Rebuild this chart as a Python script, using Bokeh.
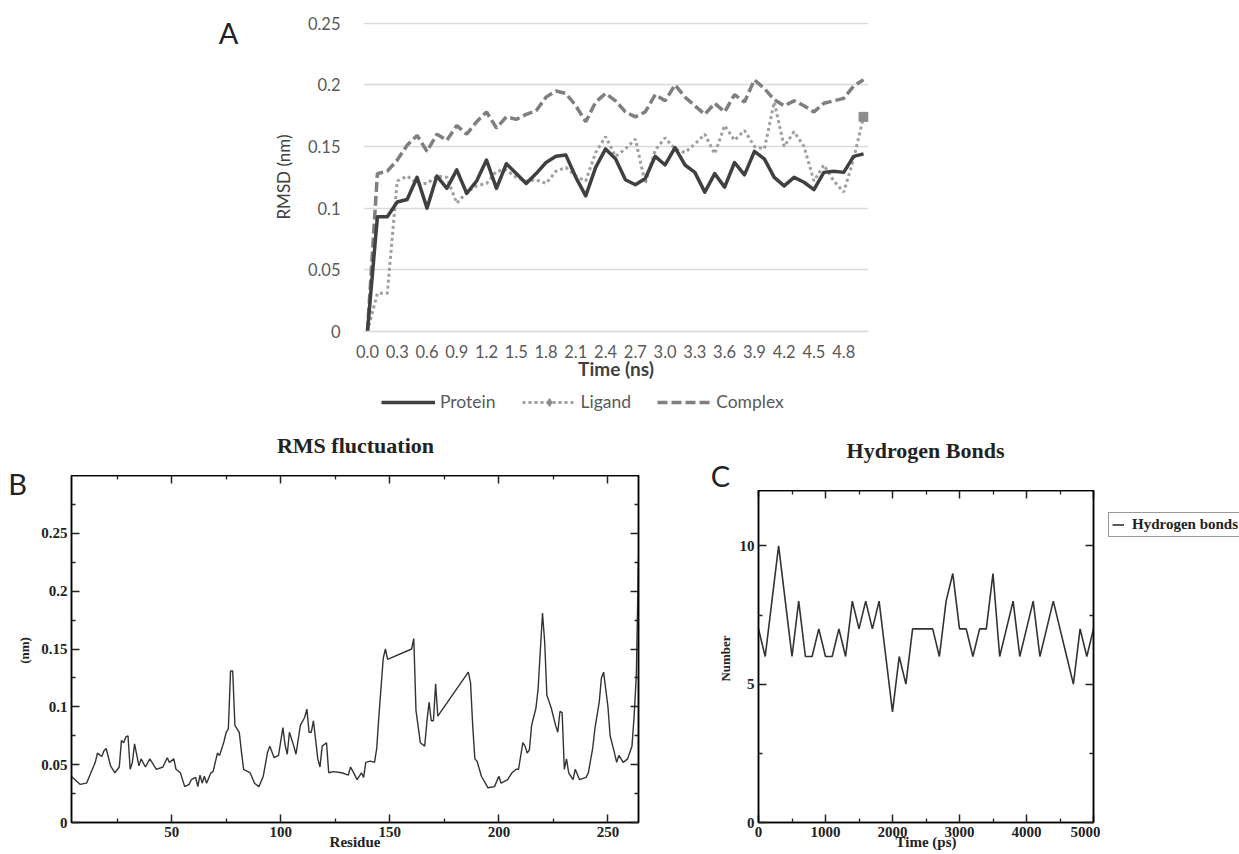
import math
from bokeh.plotting import figure
from bokeh.models import (Range1d, FixedTicker, NumeralTickFormatter, Legend,
                          LegendItem, LinearAxis)
from bokeh.layouts import column, row
from bokeh.embed import file_html
from bokeh.resources import INLINE
from bokeh.core.properties import value

# ---------------- Panel A data (RMSD) ----------------
time_ns = [round(0.1 * i, 1) for i in range(51)]
time_tick_labels = ["0.0", "0.3", "0.6", "0.9", "1.2", "1.5", "1.8", "2.1", "2.4",
                    "2.7", "3.0", "3.3", "3.6", "3.9", "4.2", "4.5", "4.8"]
rmsd_ticks = [0, 0.05, 0.1, 0.15, 0.2, 0.25]
protein = [0, 0.093, 0.093, 0.105, 0.107, 0.125, 0.100, 0.126, 0.116, 0.131,
           0.112, 0.122, 0.139, 0.116, 0.136, 0.128, 0.120, 0.128, 0.137, 0.142,
           0.143, 0.125, 0.110, 0.133, 0.148, 0.140, 0.123, 0.119, 0.124, 0.142,
           0.135, 0.149, 0.135, 0.129, 0.113, 0.128, 0.117, 0.137, 0.127, 0.146,
           0.140, 0.125, 0.118, 0.125, 0.121, 0.115, 0.129, 0.130, 0.129, 0.142,
           0.144]
ligand = [0, 0.031, 0.031, 0.122, 0.126, 0.120, 0.120, 0.126, 0.125, 0.104,
          0.113, 0.118, 0.120, 0.130, 0.131, 0.125, 0.122, 0.123, 0.120, 0.130,
          0.133, 0.126, 0.122, 0.145, 0.158, 0.142, 0.148, 0.156, 0.120, 0.147,
          0.157, 0.148, 0.145, 0.152, 0.160, 0.144, 0.167, 0.155, 0.163, 0.150,
          0.148, 0.186, 0.150, 0.162, 0.150, 0.122, 0.135, 0.122, 0.113, 0.140,
          0.174]
complex_ = [0, 0.128, 0.130, 0.139, 0.151, 0.159, 0.146, 0.160, 0.155, 0.167,
            0.160, 0.170, 0.178, 0.165, 0.174, 0.172, 0.176, 0.179, 0.190, 0.195,
            0.193, 0.183, 0.170, 0.186, 0.193, 0.187, 0.178, 0.174, 0.178, 0.192,
            0.187, 0.200, 0.190, 0.183, 0.176, 0.185, 0.178, 0.192, 0.186, 0.204,
            0.197, 0.188, 0.183, 0.187, 0.183, 0.178, 0.185, 0.187, 0.189, 0.199,
            0.204]

# ---------------- Panel B data (RMSF) ----------------
residue = [4, 8, 11, 13, 15, 16, 18, 19, 20, 22, 24, 26, 27, 28, 29, 30, 31, 32, 33, 35,
           36, 38, 40, 43, 46, 48, 49, 51, 52, 54, 56, 58, 59, 61, 62, 63, 64, 65, 66, 68,
           69, 71, 72, 74, 75, 76, 77, 78, 79, 81, 82, 83, 86, 88, 90, 92, 94, 95, 97, 99,
           101, 102, 103, 104, 106, 107, 109, 111, 112, 113, 114, 115, 117, 118, 119, 121,
           122, 124, 128, 131, 132, 134, 135, 137, 138, 139, 141, 143, 144, 145, 147, 148,
           149, 160, 161, 162, 164, 166, 167, 168, 169, 170, 171, 172, 186, 187, 188, 189,
           190, 192, 195, 198, 200, 201, 204, 206, 208, 209, 211, 212, 213, 214, 215, 217,
           218, 220, 221, 222, 224, 226, 227, 228, 229, 230, 231, 232, 234, 235, 237, 240,
           241, 243, 244, 246, 247, 248, 250, 251, 253, 254, 255, 257, 259, 261, 262, 263,
           264]
rmsf = [0.040, 0.033, 0.034, 0.043, 0.052, 0.060, 0.057, 0.062, 0.064, 0.049,
        0.043, 0.048, 0.071, 0.069, 0.074, 0.075, 0.046, 0.052, 0.068, 0.049,
        0.055, 0.048, 0.055, 0.046, 0.048, 0.056, 0.052, 0.055, 0.046, 0.043,
        0.031, 0.033, 0.037, 0.039, 0.031, 0.041, 0.034, 0.040, 0.034, 0.043,
        0.044, 0.060, 0.058, 0.070, 0.078, 0.081, 0.131, 0.131, 0.084, 0.078,
        0.061, 0.046, 0.043, 0.034, 0.031, 0.040, 0.061, 0.066, 0.056, 0.058,
        0.082, 0.067, 0.059, 0.078, 0.066, 0.059, 0.084, 0.091, 0.098, 0.078,
        0.078, 0.088, 0.055, 0.048, 0.066, 0.069,
        0.043, 0.044, 0.043, 0.041, 0.048, 0.041, 0.037, 0.043, 0.039, 0.052,
        0.053, 0.052, 0.064, 0.092, 0.142, 0.150,
        0.141, 0.150, 0.159, 0.097, 0.069, 0.066, 0.087, 0.104, 0.088, 0.088,
        0.120, 0.092, 0.130, 0.121, 0.084, 0.055,
        0.053, 0.040, 0.030, 0.031, 0.040, 0.034, 0.037, 0.043, 0.046, 0.046,
        0.069, 0.066, 0.060, 0.063, 0.084, 0.099,
        0.116, 0.181, 0.156, 0.110, 0.099, 0.084, 0.078, 0.096, 0.095, 0.046,
        0.055, 0.043, 0.037, 0.046, 0.037, 0.039,
        0.043, 0.064, 0.081, 0.104, 0.125, 0.130, 0.100, 0.075, 0.060, 0.052,
        0.058, 0.052, 0.055, 0.066, 0.092, 0.127,
        0.229]

# ---------------- Panel C data (Hydrogen bonds) ----------------
time_ps = list(range(0, 5001, 100))
hbonds = [7, 6, 8, 10, 8, 6, 8, 6, 6, 7, 6, 6, 7, 6, 8, 7, 8, 7, 8, 6,
          4, 6, 5, 7, 7, 7, 7, 6, 8, 9, 7, 7, 6, 7, 7, 9, 6, 7, 8, 6,
          7, 8, 6, 7, 8, 7, 6, 5, 7, 6, 7]

SANS = "Lato"
SERIF = "Liberation Serif"
INK = "#222222"
NAN = float("nan")


def text_fig(w, h):
    """Blank figure whose frame is the whole canvas (pixel data units)."""
    f = figure(width=w, height=h, output_backend="svg", toolbar_location=None,
               title=None, x_range=Range1d(0, w), y_range=Range1d(0, h),
               x_axis_location=None, y_axis_location=None, min_border=0)
    f.outline_line_color = None
    f.xgrid.visible = False
    f.ygrid.visible = False
    return f


def put_text(f, x, y, s, font, size, style="normal", angle=0.0, color=INK):
    f.text(x=[x], y=[y], text=[s], angle=angle, text_font=value(font),
           text_font_size=value(size), text_font_style=style, text_color=color,
           text_align="center", text_baseline="middle")


# ======================= Panel A =======================
tA = text_fig(250, 383)
put_text(tA, 228, 351, "A", SANS, "29px")

pA = figure(width=989, height=383, output_backend="svg", toolbar_location=None,
            title=None, x_range=Range1d(-0.04, 5.05), y_range=Range1d(0, 0.2505),
            min_border_left=113, min_border_right=371, min_border_top=22,
            min_border_bottom=52)
pA.outline_line_color = None
pA.xgrid.visible = False
pA.ygrid.grid_line_color = "#d9d9d9"
pA.ygrid.grid_line_width = 1.5
pA.yaxis.ticker = FixedTicker(ticks=rmsd_ticks)
pA.yaxis.formatter = NumeralTickFormatter(format="0.[00]")
pA.yaxis.axis_line_color = None
pA.yaxis.major_tick_line_color = None
pA.yaxis.minor_tick_line_color = None
pA.yaxis.major_label_standoff = 17
pA.yaxis.major_label_text_font = SANS
pA.yaxis.major_label_text_font_size = "16.5px"
pA.yaxis.major_label_text_color = "#595959"
pA.yaxis.axis_label = "RMSD (nm)"
pA.yaxis.axis_label_standoff = 11
pA.yaxis.axis_label_text_font = SANS
pA.yaxis.axis_label_text_font_size = "17px"
pA.yaxis.axis_label_text_font_style = "normal"
pA.yaxis.axis_label_text_color = "#404040"
pA.xaxis.ticker = FixedTicker(ticks=[float(t) for t in time_tick_labels])
pA.xaxis.formatter = NumeralTickFormatter(format="0.0")
pA.xaxis.axis_line_color = "#d9d9d9"
pA.xaxis.axis_line_width = 1.5
pA.xaxis.major_tick_line_color = None
pA.xaxis.minor_tick_line_color = None
pA.xaxis.major_label_standoff = 7
pA.xaxis.major_label_text_font = SANS
pA.xaxis.major_label_text_font_size = "16.5px"
pA.xaxis.major_label_text_color = "#595959"
pA.xaxis.axis_label = "Time (ns)"
pA.xaxis.axis_label_standoff = -4
pA.xaxis.axis_label_text_font = SANS
pA.xaxis.axis_label_text_font_size = "19px"
pA.xaxis.axis_label_text_font_style = "bold"
pA.xaxis.axis_label_text_color = "#404040"

COL_P, COL_L, COL_C = "#404040", "#9f9f9f", "#7f7f7f"
pA.line(time_ns, complex_, line_color=COL_C, line_width=3.5, line_dash="10 4")
pA.line(time_ns, ligand, line_color=COL_L, line_width=3, line_dash="3 3")
pA.line(time_ns, protein, line_color=COL_P, line_width=3.5, line_join="round")
pA.scatter([time_ns[-1]], [ligand[-1]], marker="square", size=9, color="#8c8c8c")

# legend strip for panel A (real Bokeh legend, own canvas, key renderers hold no data)
lA = text_fig(1239, 45)
kP = lA.line(x=[NAN], y=[NAN], line_color=COL_P, line_width=3.5)
kL = lA.line(x=[NAN], y=[NAN], line_color=COL_L, line_width=3, line_dash="3 3")
kD = lA.scatter(x=[NAN], y=[NAN], marker="diamond", size=11, color="#8c8c8c")
kC = lA.line(x=[NAN], y=[NAN], line_color=COL_C, line_width=3.5, line_dash="10 4")
legA = Legend(items=[LegendItem(label="Protein", renderers=[kP]),
                     LegendItem(label="Ligand", renderers=[kL, kD]),
                     LegendItem(label="Complex", renderers=[kC])],
              orientation="horizontal", location=(381, 16),
              glyph_width=54, glyph_height=20, label_height=20,
              label_standoff=5, spacing=26, padding=0, margin=0,
              border_line_color=None, background_fill_alpha=0,
              label_text_font=SANS, label_text_font_size="17.5px",
              label_text_color="#595959")
lA.add_layout(legA, "center")


def grace_axes(p, xt, xm, yt, ym):
    p.outline_line_color = "black"
    p.outline_line_width = 1.5
    p.xgrid.visible = False
    p.ygrid.visible = False
    bottom = p.xaxis[0]
    left = p.yaxis[0]
    top = LinearAxis()
    right = LinearAxis()
    p.add_layout(top, "above")
    p.add_layout(right, "right")
    for ax, ticks, minors in [(bottom, xt, xm), (top, xt, xm),
                              (left, yt, ym), (right, yt, ym)]:
        ax.ticker = FixedTicker(ticks=ticks, minor_ticks=minors)
        ax.major_tick_in = 8
        ax.major_tick_out = 0
        ax.minor_tick_in = 4
        ax.minor_tick_out = 0
        ax.axis_line_color = "black"
        ax.axis_line_width = 1.5
        ax.major_tick_line_color = INK
        ax.major_tick_line_width = 1.5
        ax.minor_tick_line_color = INK
        ax.minor_tick_line_width = 1.3
        ax.major_label_text_font = SERIF
        ax.major_label_text_font_size = "15px"
        ax.major_label_text_font_style = "bold"
        ax.major_label_text_color = INK
        ax.axis_label_text_font = SERIF
        ax.axis_label_text_font_size = "15px"
        ax.axis_label_text_font_style = "bold"
        ax.axis_label_text_color = INK
    for ax in (top, right):
        ax.major_label_text_font_size = "1px"
        ax.major_label_text_color = None
        ax.major_label_text_alpha = 0
        ax.major_label_standoff = 0
    bottom.major_label_standoff = 4
    bottom.axis_label_standoff = -6
    left.major_label_standoff = 4
    return bottom, left


# ======================= Panel B =======================
tB = text_fig(36, 426)
put_text(tB, 17, 371, "B", SANS, "29px")
put_text(tB, 24, 204, "(nm)", SERIF, "13px", style="bold", angle=math.pi / 2)

tBT = text_fig(654, 47)
put_text(tBT, 319, 30, "RMS fluctuation", SERIF, "22px", style="bold")

pB = figure(width=654, height=379, output_backend="svg", toolbar_location=None,
            title=None, x_range=Range1d(4.1, 264.0), y_range=Range1d(0, 0.3),
            min_border_left=35, min_border_right=52, min_border_top=0,
            min_border_bottom=32)
bB, lB = grace_axes(pB, [50, 100, 150, 200, 250], [25, 75, 125, 175, 225],
                    [0, 0.05, 0.1, 0.15, 0.2, 0.25],
                    [0.025, 0.075, 0.125, 0.175, 0.225, 0.275])
lB.formatter = NumeralTickFormatter(format="0.[00]")
bB.axis_label = "Residue"
pB.line(residue, rmsf, line_color="#333333", line_width=1.4)

# ======================= Panel C =======================
tC = text_fig(46, 426)
put_text(tC, 30, 379, "C", SANS, "29px")
put_text(tC, 35, 196, "Number", SERIF, "13px", style="bold", angle=math.pi / 2)

tCT = text_fig(364, 62)
put_text(tCT, 189, 40, "Hydrogen Bonds", SERIF, "22px", style="bold")

pC = figure(width=364, height=364, output_backend="svg", toolbar_location=None,
            title=None, x_range=Range1d(0, 5000), y_range=Range1d(0, 12),
            min_border_left=22, min_border_right=7, min_border_top=0,
            min_border_bottom=32)
bC, lCax = grace_axes(pC, [0, 1000, 2000, 3000, 4000, 5000], [500, 1500, 2500, 3500, 4500],
                      [0, 5, 10], [2.5, 7.5])
bC.axis_label = "Time (ps)"
pC.line(time_ps, hbonds, line_color="#333333", line_width=1.6)

# legend column for panel C
lC = text_fig(139, 426)
kH = lC.line(x=[NAN], y=[NAN], line_color="#333333", line_width=1.6)
legC = Legend(items=[LegendItem(label="Hydrogen bonds", renderers=[kH])],
              location=(8, 317), glyph_width=12, glyph_height=15, label_height=15,
              label_standoff=8, padding=3, margin=0, border_line_color="#333333",
              border_line_width=1.3, label_text_font=SERIF, label_text_font_size="15px",
              label_text_font_style="bold", label_text_color=INK)
lC.add_layout(legC, "center")

top_part = column(row(column(tA), column(pA)), row(column(lA)))
bottom_part = row(column(tB),
                  column(row(tBT), row(pB)),
                  column(tC),
                  column(row(tCT), row(pC)),
                  column(lC))
layout = column(top_part, bottom_part)
open("out.html", "w").write(file_html(layout, INLINE))
